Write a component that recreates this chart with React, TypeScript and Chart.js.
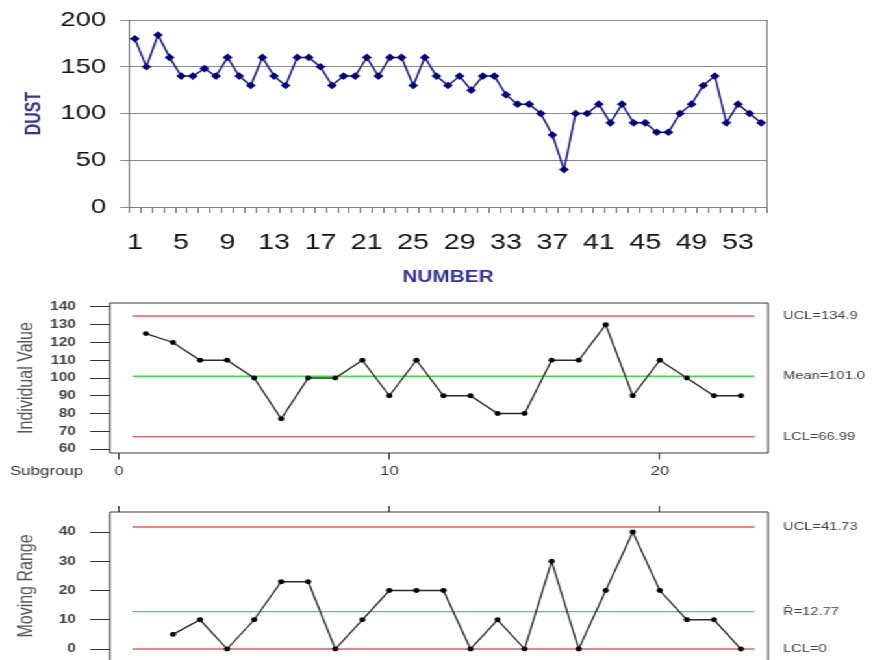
import React, { useEffect, useRef } from 'react';
import { Chart, registerables } from 'chart.js';

Chart.register(...registerables);

// ---------------- data ----------------
const DUST_NUMBERS = [
  '1','2','3','4','5','6','7','8','9','10','11','12','13','14','15','16','17','18','19','20',
  '21','22','23','24','25','26','27','28','29','30','31','32','33','34','35','36','37','38','39','40',
  '41','42','43','44','45','46','47','48','49','50','51','52','53','54','55',
];
const DUST_VALUES = [
  180, 150, 184, 160, 140, 140, 148, 140, 160, 140,
  130, 160, 140, 130, 160, 160, 150, 130, 140, 140,
  160, 140, 160, 160, 130, 160, 140, 130, 140, 125,
  140, 140, 120, 110, 110, 100, 77, 40, 100, 100,
  110, 90, 110, 90, 90, 80, 80, 100, 110, 130,
  140, 90, 110, 100, 90,
];
const DUST_Y_MIN = 0;
const DUST_Y_MAX = 200;
const DUST_Y_STEP = 50;

const SUBGROUPS = [1, 2, 3, 4, 5, 6, 7, 8, 9, 10, 11, 12, 13, 14, 15, 16, 17, 18, 19, 20, 21, 22, 23];
const INDIVIDUAL = [125, 120, 110, 110, 100, 77, 100, 100, 110, 90, 110, 90, 90, 80, 80, 110, 110, 130, 90, 110, 100, 90, 90];
const MR_SUBGROUPS = [2, 3, 4, 5, 6, 7, 8, 9, 10, 11, 12, 13, 14, 15, 16, 17, 18, 19, 20, 21, 22, 23];
const MOVING_RANGE = [5, 10, 0, 10, 23, 23, 0, 10, 20, 20, 20, 0, 10, 0, 30, 0, 20, 40, 20, 10, 10, 0];

const I_UCL = 134.9;
const I_MEAN = 101.0;
const I_LCL = 66.99;
const I_LIMIT_TEXT = ['UCL=134.9', 'Mean=101.0', 'LCL=66.99'];
const MR_UCL = 41.73;
const MR_BAR = 12.77;
const MR_LCL = 0;
const MR_LIMIT_TEXT = ['UCL=41.73', 'R\u0304=12.77', 'LCL=0'];
const LIMIT_START = 0.5;
const LIMIT_END = 23.5;
const SUB_X_MIN = -0.33;
const SUB_X_MAX = 24;
const SUB_X_STEP = 10;
const I_Y_MIN = 57.75;
const I_Y_MAX = 142.25;
const MR_Y_MIN = -3.76;
const MR_Y_MAX = 46.84;
const SUB_Y_STEP = 10;

// ---------------- layout helpers ----------------
const W = 672;
const SX = 873 / W;
const px = (v: number) => v / SX;
const FONT = "'Liberation Sans', Arial, Helvetica, sans-serif";

const RED = '#f25a5a';
const GREEN = '#3ee03e';

const framePlugin = {
  id: 'frame',
  afterDraw(chart: any, _args: any, opts: any) {
    const { ctx, chartArea: a } = chart;
    ctx.save();
    ctx.strokeStyle = opts.color || '#444';
    ctx.lineWidth = 1;
    ctx.beginPath();
    const sides = opts.sides || {};
    if (sides.left) { ctx.moveTo(a.left, a.top); ctx.lineTo(a.left, a.bottom); }
    if (sides.right) { ctx.moveTo(a.right, a.top); ctx.lineTo(a.right, a.bottom); }
    if (sides.top) { ctx.moveTo(a.left, a.top); ctx.lineTo(a.right, a.top); }
    if (sides.bottom) { ctx.moveTo(a.left, a.bottom); ctx.lineTo(a.right, a.bottom); }
    ctx.stroke();
    if (opts.labels) {
      const ys = chart.scales.y;
      ctx.font = `11.3px ${FONT}`;
      ctx.fillStyle = '#404040';
      ctx.textAlign = 'left';
      ctx.textBaseline = 'middle';
      for (const it of opts.labels) {
        ctx.fillText(it.text, a.right + opts.labelGap, ys.getPixelForValue(it.value));
      }
    }
    if (opts.extra) {
      for (const t of opts.extra) {
        ctx.font = t.font;
        ctx.fillStyle = t.color;
        ctx.textAlign = 'left';
        ctx.textBaseline = 'middle';
        ctx.fillText(t.text, t.x, t.y);
      }
    }
    ctx.restore();
  },
};

const limitLine = (value: number, color: string) => ({
  data: [{ x: LIMIT_START, y: value }, { x: LIMIT_END, y: value }],
  showLine: true,
  borderColor: color,
  borderWidth: 1.4,
  pointRadius: 0,
});

const seriesStyle = {
  showLine: true,
  borderColor: '#2a2a2a',
  borderWidth: 1.3,
  pointRadius: 2.4,
  pointBackgroundColor: '#000',
  pointBorderColor: '#000',
  pointBorderWidth: 0,
};

export default function App() {
  const topRef = useRef<HTMLCanvasElement>(null);
  const midRef = useRef<HTMLCanvasElement>(null);
  const botRef = useRef<HTMLCanvasElement>(null);

  useEffect(() => {
    Chart.defaults.font.family = FONT;
    const charts: Chart[] = [];

    // ---------- top chart ----------
    charts.push(new Chart(topRef.current!, {
      type: 'line',
      data: {
        labels: DUST_NUMBERS,
        datasets: [{
          data: DUST_VALUES,
          borderColor: '#1a1a8c',
          backgroundColor: '#000080',
          borderWidth: 1.5,
          pointStyle: 'rectRot',
          pointRadius: 3.8,
          pointBackgroundColor: '#000080',
          pointBorderColor: '#000080',
          pointBorderWidth: 0,
          tension: 0,
        }],
      },
      options: {
        animation: false,
        responsive: false,
        devicePixelRatio: 1,
        layout: { autoPadding: false, padding: { left: 0, top: 20, right: W - px(767), bottom: 0 } },
        plugins: {
          legend: { display: false },
          tooltip: { enabled: false },
          frame: { color: '#808080', sides: { right: true } },
        } as any,
        scales: {
          x: {
            type: 'category',
            offset: true,
            grid: { offset: true, drawOnChartArea: false, drawTicks: true, tickLength: 6, color: '#707070' },
            border: { display: true, color: '#808080' },
            ticks: {
              autoSkip: false, maxRotation: 0, minRotation: 0, padding: 16.8, color: '#111',
              font: { size: 22 },
              callback: (_v: any, i: number) => (i % 4 === 0 ? DUST_NUMBERS[i] : ''),
            },
            title: {
              display: true, text: 'NUMBER', color: '#333399',
              font: { size: 16, weight: 'bold' }, padding: { top: 0, bottom: 2.4 },
            },
            afterFit: (s: any) => { s.height = 83; s.paddingLeft = 0; s.paddingRight = 0; },
          },
          y: {
            min: DUST_Y_MIN,
            max: DUST_Y_MAX,
            ticks: { stepSize: DUST_Y_STEP, padding: 10.8, color: '#111', font: { size: 21 } },
            grid: { color: '#8a8a8a', tickLength: px(9), drawTicks: true },
            border: { display: true, color: '#707070' },
            title: {
              display: true, text: 'DUST', color: '#333399',
              font: { size: 16, weight: 'bold' }, padding: { top: px(35) - 9.6, bottom: 0 },
            },
            afterFit: (s: any) => { s.width = px(129); s.paddingTop = 0; s.paddingBottom = 0; },
          },
        },
      } as any,
      plugins: [framePlugin],
    }));

    // ---------- individual value chart ----------
    charts.push(new Chart(midRef.current!, {
      type: 'scatter',
      data: {
        datasets: [
          { data: SUBGROUPS.map((x, i) => ({ x, y: INDIVIDUAL[i] })), ...seriesStyle },
          limitLine(I_UCL, RED),
          limitLine(I_MEAN, GREEN),
          limitLine(I_LCL, RED),
        ] as any,
      },
      options: {
        animation: false,
        responsive: false,
        devicePixelRatio: 1,
        layout: { autoPadding: false, padding: { left: 0, top: 13, right: W - px(768), bottom: 0 } },
        plugins: {
          legend: { display: false },
          tooltip: { enabled: false },
          frame: {
            color: '#3a3a3a',
            sides: { left: true, right: true, top: true, bottom: true },
            labelGap: px(783) - px(768),
            labels: [
              { value: I_UCL, text: I_LIMIT_TEXT[0] },
              { value: I_MEAN, text: I_LIMIT_TEXT[1] },
              { value: I_LCL, text: I_LIMIT_TEXT[2] },
            ],
            extra: [{ text: 'Subgroup', x: px(10), y: 181, font: `13px ${FONT}`, color: '#333' }],
          },
        } as any,
        scales: {
          x: {
            type: 'linear',
            min: SUB_X_MIN,
            max: SUB_X_MAX,
            ticks: { stepSize: SUB_X_STEP, includeBounds: false, padding: 4, color: '#333', font: { size: 13 } },
            grid: { drawOnChartArea: false, drawTicks: true, tickLength: 6.5, color: '#333' },
            border: { display: false },
            afterFit: (s: any) => { s.height = 27; s.paddingLeft = 0; s.paddingRight = 0; },
          },
          y: {
            min: I_Y_MIN,
            max: I_Y_MAX,
            ticks: { stepSize: SUB_Y_STEP, includeBounds: false, padding: 10.8, color: '#444', font: { size: 12, weight: 'bold' } },
            grid: { drawOnChartArea: false, drawTicks: true, tickLength: 15.4, color: '#333' },
            border: { display: false },
            title: {
              display: true, text: 'Individual Value', color: '#555',
              font: { size: 16 }, padding: { top: px(26.7) - 9.6, bottom: 0 },
            },
            afterFit: (s: any) => { s.width = px(110); s.paddingTop = 0; s.paddingBottom = 0; },
          },
        },
      } as any,
      plugins: [framePlugin],
    }));

    // ---------- moving range chart ----------
    charts.push(new Chart(botRef.current!, {
      type: 'scatter',
      data: {
        datasets: [
          { data: MR_SUBGROUPS.map((x, i) => ({ x, y: MOVING_RANGE[i] })), ...seriesStyle },
          limitLine(MR_UCL, RED),
          limitLine(MR_BAR, GREEN),
          limitLine(MR_LCL, RED),
        ] as any,
      },
      options: {
        animation: false,
        responsive: false,
        devicePixelRatio: 1,
        layout: { autoPadding: false, padding: { left: 0, top: 0, right: W - px(768), bottom: 0 } },
        plugins: {
          legend: { display: false },
          tooltip: { enabled: false },
          frame: {
            color: '#3a3a3a',
            sides: { left: true, right: true, top: true, bottom: false },
            labelGap: px(783) - px(768),
            labels: [
              { value: MR_UCL, text: MR_LIMIT_TEXT[0] },
              { value: MR_BAR, text: MR_LIMIT_TEXT[1] },
              { value: MR_LCL, text: MR_LIMIT_TEXT[2] },
            ],
          },
        } as any,
        scales: {
          x: {
            type: 'linear',
            position: 'top',
            min: SUB_X_MIN,
            max: SUB_X_MAX,
            ticks: { stepSize: SUB_X_STEP, includeBounds: false, display: false },
            grid: { drawOnChartArea: false, drawTicks: true, tickLength: 6, color: '#333' },
            border: { display: false },
            afterFit: (s: any) => { s.height = 32; s.paddingLeft = 0; s.paddingRight = 0; },
          },
          y: {
            min: MR_Y_MIN,
            max: MR_Y_MAX,
            ticks: { stepSize: SUB_Y_STEP, includeBounds: false, padding: 10.8, color: '#444', font: { size: 12, weight: 'bold' } },
            grid: { drawOnChartArea: false, drawTicks: true, tickLength: 15.4, color: '#333' },
            border: { display: false },
            title: {
              display: true, text: 'Moving Range', color: '#555',
              font: { size: 16 }, padding: { top: px(26.7) - 9.6, bottom: 0 },
            },
            afterFit: (s: any) => { s.width = px(110); s.paddingTop = 0; s.paddingBottom = 0; },
          },
        },
      } as any,
      plugins: [framePlugin],
    }));

    return () => { charts.forEach((c) => c.destroy()); };
  }, []);

  return (
    <div style={{ position: 'fixed', left: 0, top: 0, width: 873, height: 660, overflow: 'hidden', background: '#fff' }}>
      <div style={{ position: 'relative', width: W, height: 660, transform: `scaleX(${SX})`, transformOrigin: '0 0' }}>
        <canvas ref={topRef} width={W} height={290} style={{ position: 'absolute', left: 0, top: 0 }} />
        <canvas ref={midRef} width={W} height={190} style={{ position: 'absolute', left: 0, top: 290 }} />
        <canvas ref={botRef} width={W} height={180} style={{ position: 'absolute', left: 0, top: 480 }} />
      </div>
    </div>
  );
}
